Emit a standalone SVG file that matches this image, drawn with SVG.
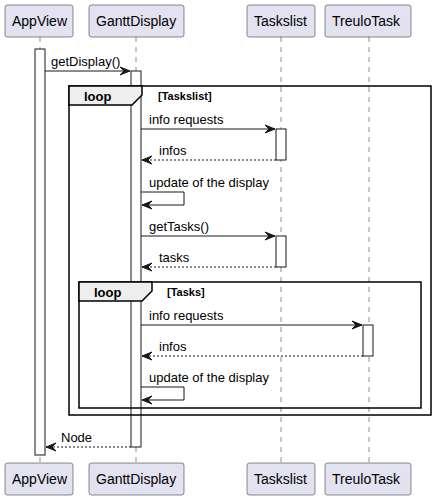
<svg xmlns="http://www.w3.org/2000/svg" width="436" height="500" viewBox="0 0 436 500">
<style>
.pbox{fill:#E2E2F0;stroke:#181818;stroke-width:0.5}
.ptxt{font-family:"Liberation Sans",Arial,sans-serif;font-size:14px;fill:#000}
.life{stroke:#181818;stroke-width:0.5;stroke-dasharray:5,5}
.act{fill:#FFFFFF;stroke:#181818;stroke-width:1}
.msg{stroke:#181818;stroke-width:1;fill:none}
.ret{stroke:#181818;stroke-width:1;fill:none;stroke-dasharray:2,2}
.head{fill:#181818;stroke:#181818;stroke-width:1}
.mtxt{font-family:"Liberation Sans",Arial,sans-serif;font-size:13px;fill:#000}
.frame{fill:none;stroke:#000;stroke-width:1.5}
.tab{fill:#EEEEEE;stroke:#000;stroke-width:1.5}
.ltxt{font-family:"Liberation Sans",Arial,sans-serif;font-size:13px;font-weight:bold;fill:#000}
.ctxt{font-family:"Liberation Sans",Arial,sans-serif;font-size:11px;font-weight:bold;fill:#000}
</style>
<rect width="436" height="500" fill="#FFFFFF"/>
<g id="lifelines">
<line class="life" x1="40" y1="37" x2="40" y2="463"/>
<line class="life" x1="136" y1="37" x2="136" y2="463"/>
<line class="life" x1="281" y1="37" x2="281" y2="463"/>
<line class="life" x1="369" y1="37" x2="369" y2="463"/>
</g>
<g id="activations">
<rect class="act" x="35" y="49" width="10" height="406"/>
<rect class="act" x="131" y="71" width="10" height="376"/>
<rect class="act" x="276" y="129" width="10" height="31"/>
<rect class="act" x="276" y="236" width="10" height="31"/>
<rect class="act" x="363" y="325" width="10" height="31"/>
</g>
<g id="loop-outer">
<rect class="frame" x="69" y="86" width="362" height="329"/>
<polygon class="tab" points="69,86 142,86 142,95 132,105 69,105"/>
<text class="ltxt" x="84" y="101">loop</text>
<text class="ctxt" x="158" y="100">[Taskslist]</text>
</g>
<g id="loop-inner">
<rect class="frame" x="79" y="282" width="342" height="126"/>
<polygon class="tab" points="79,282 152,282 152,291 142,301 79,301"/>
<text class="ltxt" x="94" y="297">loop</text>
<text class="ctxt" x="167" y="296">[Tasks]</text>
</g>
<g id="connectors">
<line class="msg" x1="45" y1="71" x2="130" y2="71"/>
<polygon class="head" points="120,67 130,71 120,75 124,71"/>
<text class="mtxt" x="51" y="66">getDisplay()</text>

<line class="msg" x1="141" y1="129" x2="275" y2="129"/>
<polygon class="head" points="265,125 275,129 265,133 269,129"/>
<text class="mtxt" x="149" y="124">info requests</text>

<line class="ret" x1="276" y1="160" x2="142" y2="160"/>
<polygon class="head" points="152,156 142,160 152,164 148,160"/>
<text class="mtxt" x="159" y="155">infos</text>

<polyline class="msg" points="141,192 184,192 184,205 142,205"/>
<polygon class="head" points="152,201 142,205 152,209 148,205"/>
<text class="mtxt" x="149" y="187">update of the display</text>

<line class="msg" x1="141" y1="236" x2="275" y2="236"/>
<polygon class="head" points="265,232 275,236 265,240 269,236"/>
<text class="mtxt" x="149" y="231">getTasks()</text>

<line class="ret" x1="276" y1="267" x2="142" y2="267"/>
<polygon class="head" points="152,263 142,267 152,271 148,267"/>
<text class="mtxt" x="159" y="262">tasks</text>

<line class="msg" x1="141" y1="325" x2="362" y2="325"/>
<polygon class="head" points="352,321 362,325 352,329 356,325"/>
<text class="mtxt" x="149" y="320">info requests</text>

<line class="ret" x1="363" y1="356" x2="142" y2="356"/>
<polygon class="head" points="152,352 142,356 152,360 148,356"/>
<text class="mtxt" x="159" y="351">infos</text>

<polyline class="msg" points="141,387 184,387 184,400 142,400"/>
<polygon class="head" points="152,396 142,400 152,404 148,400"/>
<text class="mtxt" x="149" y="382">update of the display</text>

<line class="ret" x1="131" y1="447" x2="46" y2="447"/>
<polygon class="head" points="56,443 46,447 56,451 52,447"/>
<text class="mtxt" x="61" y="442">Node</text>
</g>
<g id="AppView">
<rect class="pbox" x="5" y="5" width="68" height="32" rx="2.5"/>
<text class="ptxt" x="12" y="26">AppView</text>
<rect class="pbox" x="5" y="463" width="68" height="32" rx="2.5"/>
<text class="ptxt" x="12" y="484">AppView</text>
</g>
<g id="GanttDisplay">
<rect class="pbox" x="89" y="5" width="95" height="32" rx="2.5"/>
<text class="ptxt" x="96" y="26">GanttDisplay</text>
<rect class="pbox" x="89" y="463" width="95" height="32" rx="2.5"/>
<text class="ptxt" x="96" y="484">GanttDisplay</text>
</g>
<g id="Taskslist">
<rect class="pbox" x="247" y="5" width="68" height="32" rx="2.5"/>
<text class="ptxt" x="254" y="26">Taskslist</text>
<rect class="pbox" x="247" y="463" width="68" height="32" rx="2.5"/>
<text class="ptxt" x="254" y="484">Taskslist</text>
</g>
<g id="TreuloTask">
<rect class="pbox" x="325" y="5" width="86" height="32" rx="2.5"/>
<text class="ptxt" x="332" y="26">TreuloTask</text>
<rect class="pbox" x="325" y="463" width="86" height="32" rx="2.5"/>
<text class="ptxt" x="332" y="484">TreuloTask</text>
</g>
</svg>
